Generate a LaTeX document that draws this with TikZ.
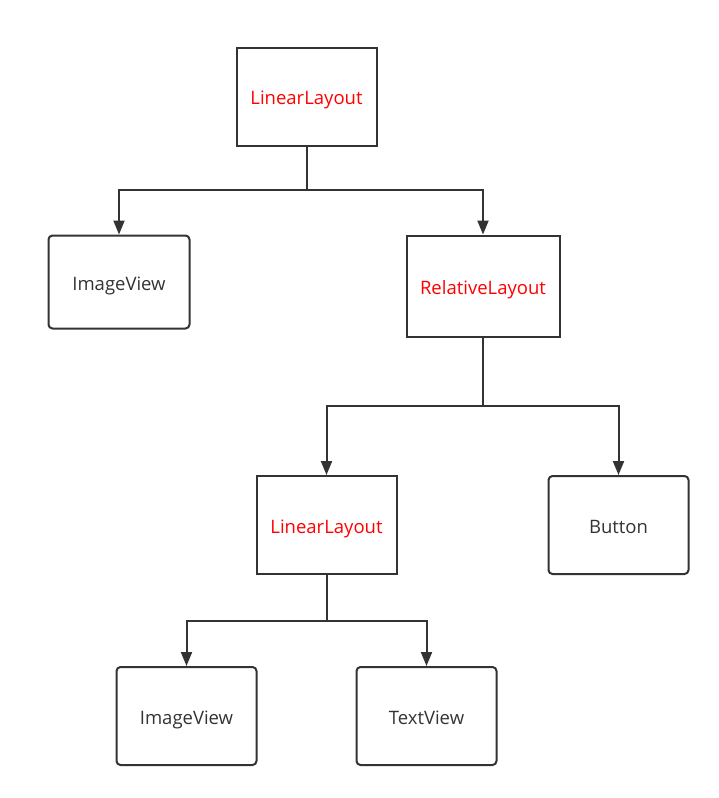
\documentclass[tikz,border=0pt]{standalone}
\usepackage{fontspec}
\setmainfont{Open Sans}
\usetikzlibrary{arrows.meta}
\definecolor{lc}{HTML}{333333}
\definecolor{rd}{HTML}{FF0000}
\tikzset{
  box/.style={draw=lc, line width=2pt, minimum width=140pt, minimum height=98pt, inner sep=0pt, font=\fontsize{18.5}{20}\selectfont},
  sq/.style={box, text=rd},
  rnd/.style={box, rounded corners=4pt, text=lc},
  arr/.style={draw=lc, line width=2pt, -{Triangle[length=14pt,width=11pt]}},
  ln/.style={draw=lc, line width=2pt},
  lbl/.style={inner sep=0pt, font=\fontsize{18.5}{20}\selectfont}
}
\begin{document}
\begin{tikzpicture}[x=1pt,y=-1pt]
\useasboundingbox (0,0) rectangle (719,798);
\node[sq] (top) at (306.5,96.5) {};
\node[sq, minimum width=153pt, minimum height=101pt] (rl) at (483,286) {};
\node[rnd, minimum width=141pt, minimum height=93pt] (iv1) at (119,282) {};
\node[sq] (ll2) at (326.5,525) {};
\node[rnd] (btn) at (618.5,525) {};
\node[rnd] (iv2) at (186.5,716) {};
\node[rnd] (tv) at (426.5,716) {};
\node[lbl, text=rd, anchor=base] (ttop) at ([yshift=-8pt]top.center) {LinearLayout};
\node[lbl, text=rd, anchor=base] (trl) at ([yshift=-8pt]rl.center) {RelativeLayout};
\node[lbl, text=lc, anchor=base] (tiv1) at ([yshift=-8pt]iv1.center) {ImageView};
\node[lbl, text=rd, anchor=base] (tll2) at ([yshift=-8pt]ll2.center) {LinearLayout};
\node[lbl, text=lc, anchor=base] (tbtn) at ([yshift=-8pt]btn.center) {Button};
\node[lbl, text=lc, anchor=base] (tiv2) at ([yshift=-8pt]iv2.center) {ImageView};
\node[lbl, text=lc, anchor=base] (ttv) at ([yshift=-8pt]tv.center) {TextView};
\coordinate (j1) at (306.5,190);
\coordinate (j2) at (483,406);
\coordinate (j3) at (326.5,621);
\draw[ln] (top.south) -- (j1);
\draw[arr] (j1) -| (iv1.north);
\draw[arr] (j1) -| (rl.north);
\draw[ln] (rl.south) -- (j2);
\draw[arr] (j2) -| (ll2.north);
\draw[arr] (j2) -| (btn.north);
\draw[ln] (ll2.south) -- (j3);
\draw[arr] (j3) -| (iv2.north);
\draw[arr] (j3) -| (tv.north);
\end{tikzpicture}
\end{document}
